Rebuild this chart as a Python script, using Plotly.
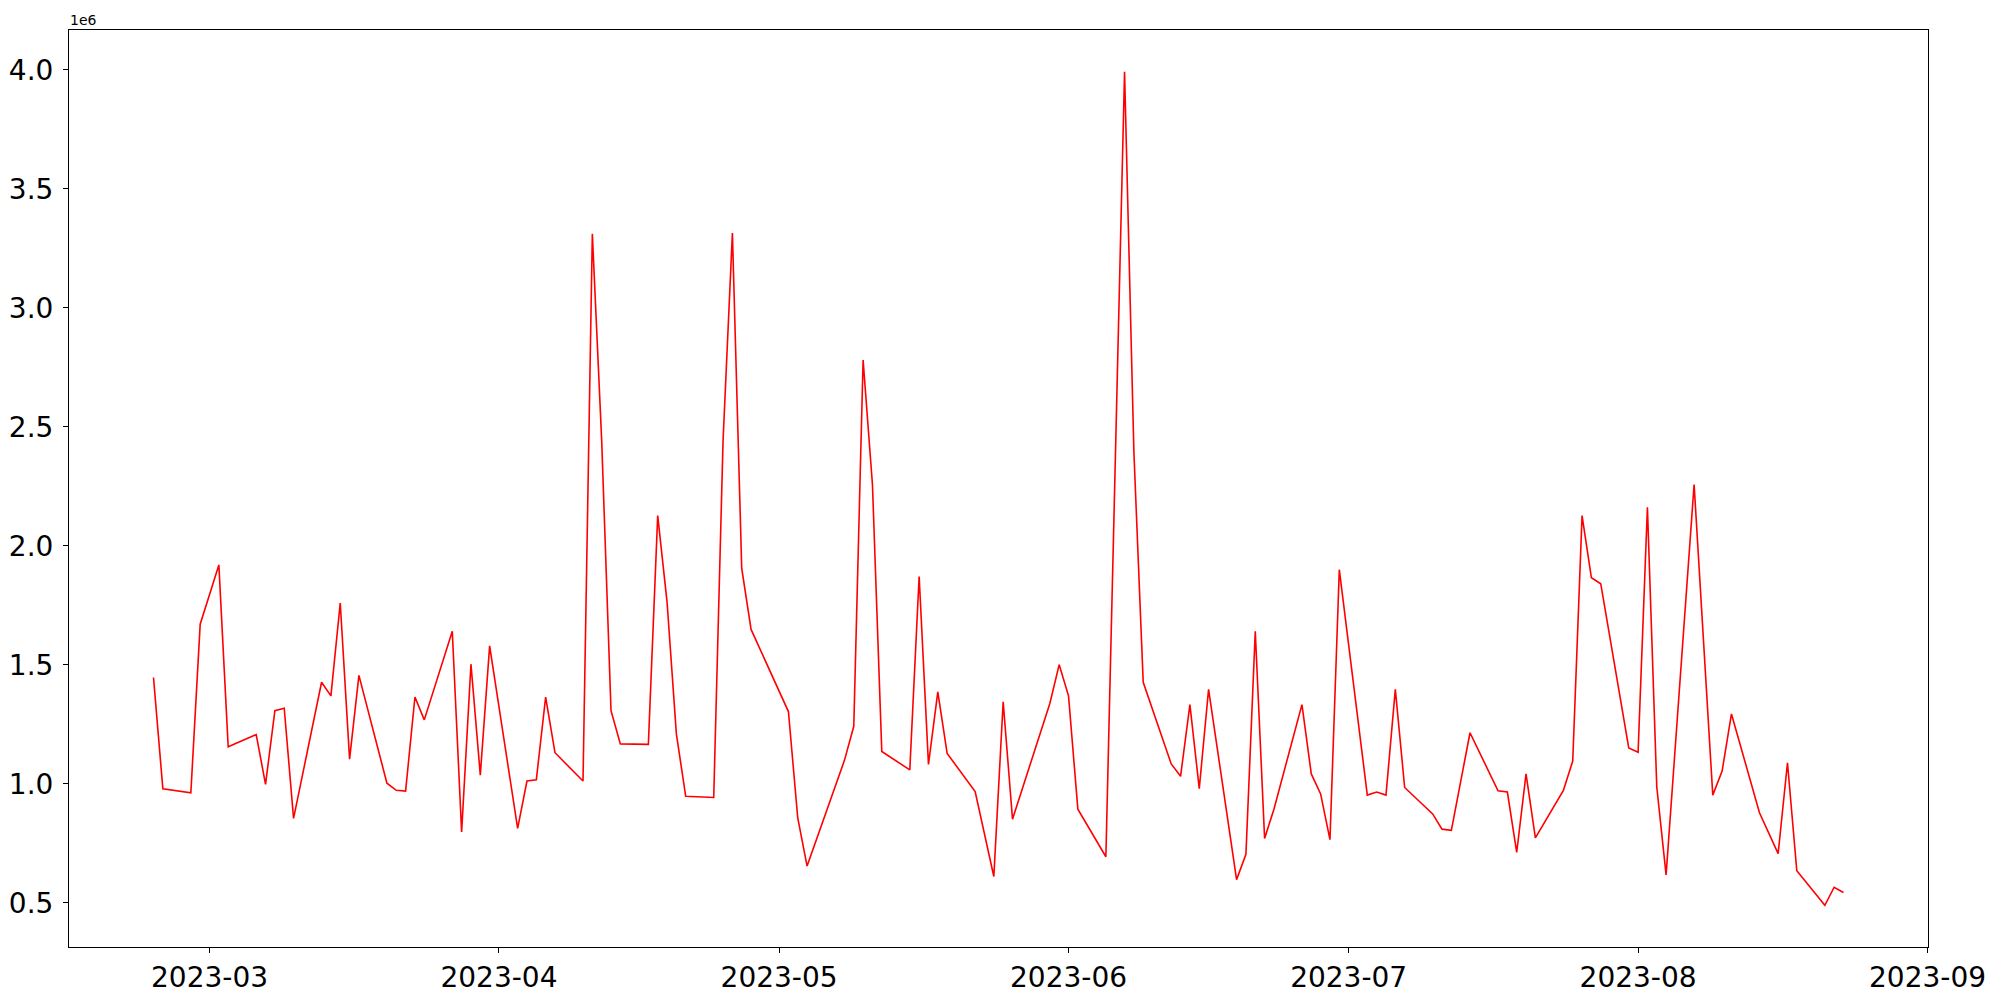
import pandas as pd
import plotly.graph_objects as go

# ---- data (values in units, axis shows 1e6 offset) ----
dates = [
    "2023-02-23", "2023-02-24", "2023-02-27", "2023-02-28", "2023-03-02", "2023-03-03",
    "2023-03-06", "2023-03-07", "2023-03-08", "2023-03-09", "2023-03-10",
    "2023-03-13", "2023-03-14", "2023-03-15", "2023-03-16", "2023-03-17",
    "2023-03-20", "2023-03-21", "2023-03-22", "2023-03-23", "2023-03-24",
    "2023-03-27", "2023-03-28", "2023-03-29", "2023-03-30", "2023-03-31",
    "2023-04-03", "2023-04-04", "2023-04-05", "2023-04-06", "2023-04-07",
    "2023-04-10", "2023-04-11", "2023-04-12", "2023-04-13", "2023-04-14",
    "2023-04-17", "2023-04-18", "2023-04-19", "2023-04-20", "2023-04-21",
    "2023-04-24", "2023-04-25", "2023-04-26", "2023-04-27", "2023-04-28",
    "2023-05-02", "2023-05-03", "2023-05-04",
    "2023-05-08", "2023-05-09", "2023-05-10", "2023-05-11", "2023-05-12",
    "2023-05-15", "2023-05-16", "2023-05-17", "2023-05-18", "2023-05-19",
    "2023-05-22", "2023-05-24", "2023-05-25", "2023-05-26",
    "2023-05-30", "2023-05-31", "2023-06-01", "2023-06-02",
    "2023-06-05", "2023-06-07", "2023-06-08", "2023-06-09",
    "2023-06-12", "2023-06-13", "2023-06-14", "2023-06-15", "2023-06-16",
    "2023-06-19", "2023-06-20", "2023-06-21", "2023-06-22", "2023-06-23",
    "2023-06-26", "2023-06-27", "2023-06-28", "2023-06-29", "2023-06-30",
    "2023-07-03", "2023-07-04", "2023-07-05", "2023-07-06", "2023-07-07",
    "2023-07-10", "2023-07-11", "2023-07-12", "2023-07-14",
    "2023-07-17", "2023-07-18", "2023-07-19", "2023-07-20", "2023-07-21",
    "2023-07-24", "2023-07-25", "2023-07-26", "2023-07-27", "2023-07-28",
    "2023-07-31", "2023-08-01", "2023-08-02", "2023-08-03", "2023-08-04",
    "2023-08-07", "2023-08-09", "2023-08-10", "2023-08-11",
    "2023-08-14", "2023-08-16", "2023-08-17", "2023-08-18",
    "2023-08-21", "2023-08-22", "2023-08-23",
]

values = [
    1447000, 980000, 963000, 1671000, 1920000, 1156000,
    1207000, 998000, 1308000, 1318000, 855000,
    1427000, 1370000, 1760000, 1104000, 1456000,
    1003000, 973000, 970000, 1365000, 1269000,
    1641000, 798000, 1503000, 1037000, 1580000,
    813000, 1012000, 1017000, 1365000, 1131000,
    1012000, 3311000, 2443000, 1308000, 1168000,
    1166000, 2127000, 1765000, 1210000, 948000,
    943000, 2443000, 3314000, 1905000, 1649000,
    1304000, 857000, 655000,
    1099000, 1242000, 2781000, 2258000, 1136000,
    1059000, 1871000, 1082000, 1387000, 1128000,
    968000, 611000, 1345000, 852000,
    1338000, 1501000, 1370000, 894000,
    694000, 3992000, 2394000, 1427000,
    1084000, 1032000, 1333000, 980000, 1397000,
    598000, 704000, 1641000, 771000, 894000,
    1333000, 1042000, 958000, 766000, 1900000,
    953000, 966000, 953000, 1397000, 985000,
    874000, 810000, 805000, 1215000,
    971000, 966000, 712000, 1042000, 773000,
    973000, 1096000, 2127000, 1866000, 1841000,
    1151000, 1133000, 2162000, 988000, 618000,
    2258000, 953000, 1054000, 1294000,
    879000, 707000, 1089000, 635000,
    490000, 566000, 544000,
]

y_tick_vals = [500000, 1000000, 1500000, 2000000, 2500000, 3000000, 3500000, 4000000]
y_tick_text = ["0.5", "1.0", "1.5", "2.0", "2.5", "3.0", "3.5", "4.0"]
x_tick_vals = ["2023-03-01", "2023-04-01", "2023-05-01", "2023-06-01",
               "2023-07-01", "2023-08-01", "2023-09-01"]
x_tick_text = ["2023-03", "2023-04", "2023-05", "2023-06", "2023-07", "2023-08", "2023-09"]

# ---- ranges with matplotlib-like 5% margins ----
d = pd.to_datetime(dates)
span = d.max() - d.min()
x0 = d.min() - 0.05 * span
x1 = d.max() + 0.05 * span
vmin, vmax = min(values), max(values)
vspan = vmax - vmin
y0 = vmin - 0.05 * vspan
y1 = vmax + 0.05 * vspan

FONT = "DejaVu Sans"

fig = go.Figure()
fig.add_trace(go.Scatter(
    x=d, y=values, mode="lines",
    line=dict(color="#ff0000", width=1.6),
    showlegend=False,
))

axis_common = dict(
    showgrid=False, zeroline=False, automargin=False,
    showline=True, linecolor="black", linewidth=1, mirror=True,
    ticks="outside", ticklen=5, tickwidth=1, tickcolor="black",
    tickfont=dict(family=FONT, size=28, color="black"),
)

fig.update_xaxes(
    range=[x0, x1], tickmode="array",
    tickvals=x_tick_vals, ticktext=x_tick_text,
    **axis_common,
)
fig.update_yaxes(
    range=[y0, y1], tickmode="array",
    tickvals=y_tick_vals, ticktext=y_tick_text,
    ticklabelstandoff=4,
    **axis_common,
)

fig.add_annotation(
    text="1e6", xref="paper", yref="paper", x=0, y=1,
    xanchor="left", yanchor="bottom", showarrow=False,
    font=dict(family=FONT, size=14, color="black"), xshift=-1, yshift=0,
)

# page body has an 8px margin, so the figure is 1992x992 and margins are offset
fig.update_layout(
    width=1992, height=992,
    margin=dict(l=61, r=72, t=22, b=53, autoexpand=False),
    paper_bgcolor="white", plot_bgcolor="white",
    font=dict(family=FONT),
)

fig.write_html("out.html")
